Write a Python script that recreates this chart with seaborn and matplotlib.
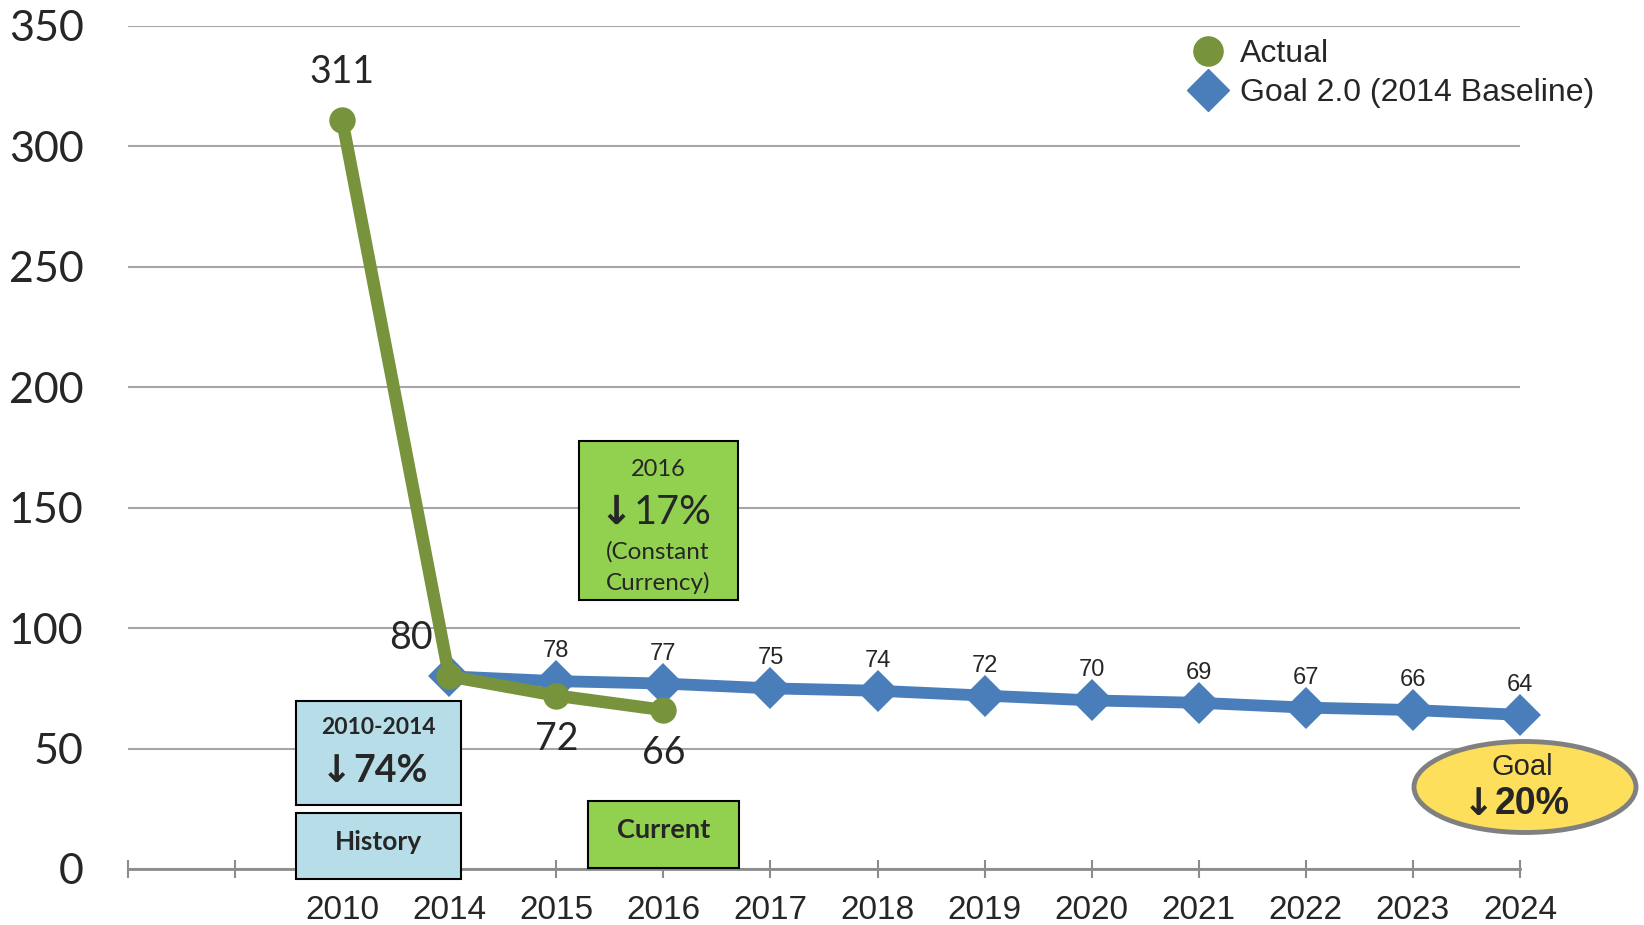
import matplotlib
matplotlib.use("Agg")
import matplotlib.pyplot as plt
from matplotlib.patches import Rectangle, Ellipse
from matplotlib.lines import Line2D
import pandas as pd
import seaborn as sns

# categories on the x axis (two empty slots before 2010)
categories = ["", "", "2010", "2014", "2015", "2016", "2017", "2018", "2019",
              "2020", "2021", "2022", "2023", "2024"]

actual_years = ["2010", "2014", "2015", "2016"]
actual_values = [311, 80, 72, 66]

goal_years = ["2014", "2015", "2016", "2017", "2018", "2019", "2020",
              "2021", "2022", "2023", "2024"]
goal_values = [80, 78, 77, 75, 74, 72, 70, 69, 67, 66, 64]

W, H = 1644, 925
GREEN = "#77933C"
BLUE = "#4A7EBB"
CAL = ["Lato", "DejaVu Sans"]
ARIAL = ["Liberation Sans", "DejaVu Sans"]
NARROW = ["Liberation Sans Narrow", "Liberation Sans", "DejaVu Sans"]

sns.set_theme(style="white")
plt.rcParams["font.family"] = ARIAL

actual = pd.DataFrame({"x": [categories.index(y) for y in actual_years],
                       "value": actual_values})
goal = pd.DataFrame({"x": [categories.index(y) for y in goal_years],
                     "value": goal_values})

fig = plt.figure(figsize=(W / 100, H / 100), dpi=100)
ax = fig.add_axes([128 / W, 1 - 869 / H, (1520 - 128) / W, (869 - 26) / H])


def fx(px):
    return px / W


def fy(py):
    return 1 - py / H


# lines
sns.lineplot(data=goal, x="x", y="value", ax=ax, color=BLUE, linewidth=8.5,
             marker="D", markersize=21, markeredgewidth=0, zorder=3,
             clip_on=False)
sns.lineplot(data=actual, x="x", y="value", ax=ax, color=GREEN, linewidth=9,
             marker="o", markersize=19, markeredgewidth=0, zorder=4,
             clip_on=False)

ax.set_xlim(0, len(categories) - 1)
ax.set_ylim(0, 350)
ax.set_xticks(range(len(categories)))
ax.set_xticklabels(categories)
ax.set_xlabel("")
ax.set_ylabel("")
ax.set_yticks(range(0, 351, 50))
ax.grid(axis="y", color="#A6A6A6", linewidth=1.5)
ax.grid(axis="x", visible=False)
for s in ["left", "right", "top"]:
    ax.spines[s].set_visible(False)
ax.spines["bottom"].set_color("#8C8C8C")
ax.spines["bottom"].set_linewidth(2)
ax.tick_params(axis="x", direction="inout", length=13, width=1.5,
               color="#8C8C8C", pad=12, bottom=True)
ax.tick_params(axis="y", length=0, pad=32)
for t in ax.get_xticklabels():
    t.set_family(NARROW)
    t.set_fontsize(24)
for t in ax.get_yticklabels():
    t.set_family(CAL)
    t.set_fontsize(31)

# data labels
x_a = actual["x"].tolist()
ax.annotate(str(actual_values[0]), (x_a[0], actual_values[0]), xytext=(0, 48),
            textcoords="offset pixels", ha="center", va="center",
            fontsize=27, family=CAL)
ax.annotate(str(actual_values[1]), (x_a[1], actual_values[1]), xytext=(-38, 38),
            textcoords="offset pixels", ha="center", va="center",
            fontsize=27, family=CAL)
for xv, v in zip(x_a[2:], actual_values[2:]):
    ax.annotate(str(v), (xv, v), xytext=(0, -43), textcoords="offset pixels",
                ha="center", va="center", fontsize=27, family=CAL)
for xv, v in zip(goal["x"].tolist()[1:], goal_values[1:]):
    ax.annotate(str(v), (xv, v), xytext=(0, 30), textcoords="offset pixels",
                ha="center", va="center", fontsize=17, family=ARIAL)

# legend
handles = [Line2D([], [], color=GREEN, marker="o", linestyle="", markersize=21),
           Line2D([], [], color=BLUE, marker="D", linestyle="", markersize=21)]
fig.legend(handles, ["Actual", "Goal 2.0 (2014 Baseline)"], loc="upper left",
           bbox_to_anchor=(fx(1170), fy(26)), frameon=False,
           handletextpad=0.2, labelspacing=0.3, borderaxespad=0,
           handlelength=1.6, prop={"family": ARIAL, "size": 23})

# annotation boxes
boxes = [(296, 701, 461, 805, "#B7DEE8"), (296, 813, 461, 879, "#B7DEE8"),
         (579, 441, 738, 600, "#92D050"), (588, 801, 739, 868, "#92D050")]
for x0, y0, x1, y1, c in boxes:
    fig.add_artist(Rectangle((fx(x0), fy(y1)), (x1 - x0) / W, (y1 - y0) / H,
                             transform=fig.transFigure, facecolor=c,
                             edgecolor="black", linewidth=1.5, zorder=5))


def arrow_pct(xsplit, ypx, pct, fam, size, bold):
    w = "bold" if bold else "normal"
    fig.text(fx(xsplit), fy(ypx + 1), "↓", ha="right", va="center",
             fontsize=size, weight="bold", family=["DejaVu Sans"], zorder=6)
    fig.text(fx(xsplit + 1), fy(ypx), pct, ha="left", va="center",
             fontsize=size, weight=w, family=fam, zorder=6)


fig.text(fx(378), fy(727), "2010-2014", ha="center", va="center",
         fontsize=16.5, weight="bold", family=CAL, zorder=6)
arrow_pct(352, 771, "74%", CAL, 27, True)
fig.text(fx(378), fy(842), "History", ha="center", va="center",
         fontsize=19, weight="bold", family=CAL, zorder=6)
fig.text(fx(658), fy(469), "2016", ha="center", va="center",
         fontsize=17, family=CAL, zorder=6)
arrow_pct(633, 512, "17%", CAL, 28.5, False)
fig.text(fx(658), fy(552), "(Constant", ha="center", va="center",
         fontsize=17.5, family=CAL, zorder=6)
fig.text(fx(658), fy(583), "Currency)", ha="center", va="center",
         fontsize=17.5, family=CAL, zorder=6)
fig.text(fx(664), fy(830), "Current", ha="center", va="center",
         fontsize=19.5, weight="bold", family=CAL, zorder=6)

fig.add_artist(Ellipse((fx(1525), fy(787)), 222 / W, 91 / H,
                       transform=fig.transFigure, facecolor="#FDDF5C",
                       edgecolor="#808080", linewidth=3.5, zorder=5))
fig.text(fx(1522), fy(767), "Goal", ha="center", va="center",
         fontsize=21, family=ARIAL, zorder=6)
arrow_pct(1494, 804, "20%", NARROW, 27, True)

fig.savefig("out.png", dpi=100)
plt.close(fig)
